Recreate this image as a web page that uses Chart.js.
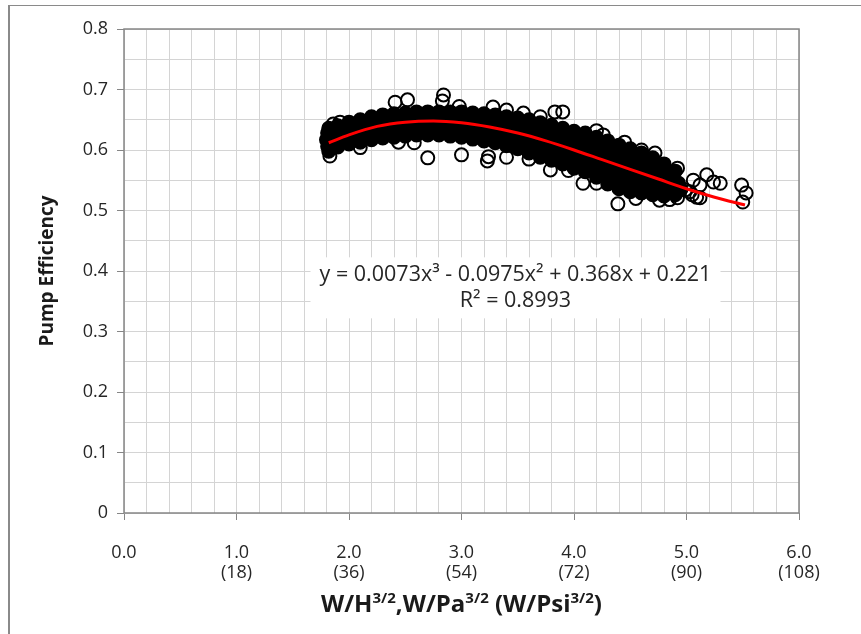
<!DOCTYPE html>
<html>
<head>
<meta charset="utf-8">
<script src="https://cdn.jsdelivr.net/npm/chart.js@4.4.1/dist/chart.umd.min.js"></script>
<style>
  html, body { margin: 0; padding: 0; background: #fff; overflow: hidden; }
  #wrap { position: relative; width: 861px; height: 634px; overflow: hidden; }
  #frame { position: absolute; left: 8px; top: 5px; width: 900px; height: 700px;
           border-left: 2px solid #8a8a8a; border-top: 1px solid #8a8a8a; }
  #myChart { position: absolute; left: 0; top: 0; }
</style>
</head>
<body>
<div id="wrap">
  <div id="frame"></div>
  <canvas id="myChart" width="861" height="634"></canvas>
</div>
<script>
// tick labels
const xTickTop = ['0.0', '1.0', '2.0', '3.0', '4.0', '5.0', '6.0']
const xTickPsi = ['', '(18)', '(36)', '(54)', '(72)', '(90)', '(108)']
const yTickLabels = ['0', '0.1', '0.2', '0.3', '0.4', '0.5', '0.6', '0.7', '0.8']

// dense band of measured points (upper / lower edge of the black mass)
const bandX = [1.82, 1.9, 2.0, 2.1, 2.2, 2.3, 2.4, 2.5, 2.6, 2.7, 2.8, 2.9, 3.0, 3.1, 3.2, 3.3,
  3.4, 3.5, 3.6, 3.7, 3.8, 3.9, 4.0, 4.1, 4.2, 4.3, 4.4, 4.5, 4.6, 4.7, 4.8, 4.9]
const bandTop = [0.636, 0.640, 0.646, 0.650, 0.655, 0.658, 0.660, 0.661, 0.663, 0.663, 0.663, 0.663,
  0.663, 0.661, 0.660, 0.658, 0.655, 0.653, 0.650, 0.645, 0.641, 0.636, 0.631, 0.628, 0.621, 0.615,
  0.608, 0.602, 0.595, 0.587, 0.577, 0.565]
const bandBottom = [0.598, 0.605, 0.610, 0.613, 0.617, 0.620, 0.621, 0.623, 0.625, 0.625, 0.625, 0.623,
  0.621, 0.618, 0.615, 0.612, 0.607, 0.602, 0.595, 0.588, 0.583, 0.577, 0.570, 0.564, 0.555, 0.544,
  0.536, 0.531, 0.529, 0.526, 0.524, 0.526]
// points closing the two ends of the band
const endX = [1.80, 1.81, 1.81, 4.93, 4.95]
const endY = [0.617, 0.628, 0.606, 0.545, 0.535]

// separate circles around the band
const ringX = [1.86, 1.92, 1.83, 2.41, 2.52, 2.84, 2.83, 3.28, 3.40, 3.83, 3.90, 2.70, 3.00, 3.23,
  3.24, 2.58, 2.44, 3.40, 4.26, 4.39, 4.08, 3.79, 4.72, 4.92, 5.06, 5.18, 5.24, 5.30, 5.09, 5.03,
  5.49, 5.53, 5.50, 4.99, 5.12, 5.05, 5.12, 4.76, 4.92, 2.98, 3.55, 3.70, 4.20, 4.45, 4.60, 2.10,
  3.60, 3.95, 4.20, 4.55, 4.85]
const ringY = [0.643, 0.646, 0.590, 0.679, 0.683, 0.691, 0.681, 0.671, 0.666, 0.663, 0.663, 0.587,
  0.592, 0.582, 0.589, 0.612, 0.613, 0.588, 0.625, 0.511, 0.545, 0.567, 0.595, 0.570, 0.550, 0.559,
  0.547, 0.545, 0.522, 0.531, 0.542, 0.529, 0.514, 0.534, 0.542, 0.526, 0.521, 0.517, 0.521, 0.672,
  0.661, 0.655, 0.632, 0.613, 0.600, 0.604, 0.585, 0.566, 0.545, 0.520, 0.518]

// red trend line
const trendX = [1.82, 2.0, 2.25, 2.5, 2.75, 3.0, 3.25, 3.5, 3.75, 4.0, 4.25, 4.5, 4.75, 5.0, 5.25, 5.52]
const trendY = [0.612, 0.625, 0.639, 0.646, 0.648, 0.645, 0.638, 0.628, 0.615, 0.600, 0.584, 0.568,
  0.552, 0.536, 0.522, 0.509]

const eqLines = ['y = 0.0073x³ - 0.0975x² + 0.368x + 0.221', 'R² = 0.8993']
const eqPos = { x: 3.48, y: 0.373 }
const xTitleParts = [['W/H', false], ['3/2', true], [',W/Pa', false], ['3/2', true],
  [' (W/Psi', false], ['3/2', true], [')', false]]

const FONT = "'Open Sans', 'Liberation Sans', sans-serif"

function pts(xs, ys) {
  return xs.map((x, i) => ({ x: x, y: ys[i] }))
}

function isWhole(v, k) {
  return Math.abs(v * k - Math.round(v * k)) < 1e-6
}

const decor = {
  id: 'decor',
  afterDraw(chart) {
    const { ctx, chartArea, scales } = chart
    ctx.save()
    // plot border
    ctx.strokeStyle = '#868686'
    ctx.lineWidth = 1.5
    ctx.strokeRect(chartArea.left, chartArea.top, chartArea.right - chartArea.left, chartArea.bottom - chartArea.top)

    // trendline label
    const cx = scales.x.getPixelForValue(eqPos.x)
    const cy = scales.y.getPixelForValue(eqPos.y)
    ctx.fillStyle = '#fff'
    ctx.fillRect(cx - 205, cy - 30, 410, 61)
    ctx.fillStyle = '#262626'
    ctx.font = '21.5px ' + FONT
    ctx.textAlign = 'center'
    ctx.textBaseline = 'middle'
    ctx.fillText(eqLines[0], cx, cy - 12)
    ctx.fillText(eqLines[1], cx, cy + 14)

    // x axis title with superscripts, centred under the plot
    const big = 'bold 24px ' + FONT
    const small = 'bold 15px ' + FONT
    let total = 0
    xTitleParts.forEach(p => {
      ctx.font = p[1] ? small : big
      total += ctx.measureText(p[0]).width
    })
    let x = (chartArea.left + chartArea.right) / 2 - total / 2
    const base = 612
    ctx.textAlign = 'left'
    ctx.textBaseline = 'alphabetic'
    ctx.fillStyle = '#1a1a1a'
    xTitleParts.forEach(p => {
      ctx.font = p[1] ? small : big
      ctx.fillText(p[0], x, p[1] ? base - 9 : base)
      x += ctx.measureText(p[0]).width
    })
    ctx.restore()
  }
}

const ctx2 = document.getElementById('myChart').getContext('2d')

const myChart = new Chart(ctx2, {
  type: 'scatter',
  data: {
    datasets: [{
      label: 'trend',
      data: pts(trendX, trendY),
      showLine: true,
      borderColor: '#ff0000',
      borderWidth: 3,
      pointRadius: 0,
      cubicInterpolationMode: 'monotone',
      fill: false
    }, {
      label: 'rings',
      data: pts(ringX, ringY),
      pointRadius: 6.5,
      pointBorderWidth: 2,
      pointBorderColor: '#000',
      pointBackgroundColor: 'rgba(0,0,0,0)'
    }, {
      label: 'ends',
      data: pts(endX, endY),
      pointRadius: 6.5,
      pointBorderWidth: 2,
      pointBorderColor: '#000',
      pointBackgroundColor: '#000'
    }, {
      label: 'bandTop',
      data: pts(bandX, bandTop),
      showLine: true,
      borderWidth: 0,
      borderColor: '#000',
      pointRadius: 6.5,
      pointBorderWidth: 2,
      pointBorderColor: '#000',
      pointBackgroundColor: '#000',
      fill: false
    }, {
      label: 'bandBottom',
      data: pts(bandX, bandBottom),
      showLine: true,
      borderWidth: 0,
      borderColor: '#000',
      backgroundColor: '#000',
      pointRadius: 6.5,
      pointBorderWidth: 2,
      pointBorderColor: '#000',
      pointBackgroundColor: '#000',
      fill: '-1'
    }]
  },
  options: {
    responsive: false,
    animation: false,
    events: [],
    layout: {
      padding: { left: 0, top: 29, right: 62, bottom: 0 }
    },
    plugins: {
      legend: { display: false },
      tooltip: { enabled: false }
    },
    scales: {
      x: {
        type: 'linear',
        min: 0,
        max: 6,
        afterFit: (scale) => { scale.height = 121 },
        border: { display: false },
        grid: {
          color: '#d4d4d4',
          lineWidth: 1,
          tickLength: 7,
          tickColor: (c) => (c.tick && isWhole(c.tick.value, 1)) ? '#868686' : 'rgba(0,0,0,0)'
        },
        ticks: {
          stepSize: 0.2,
          autoSkip: false,
          maxRotation: 0,
          padding: 23,
          color: '#262626',
          font: { family: FONT, size: 18, lineHeight: 1.1 },
          callback: (v) => {
            if (!isWhole(v, 1)) return ''
            const i = Math.round(v)
            return xTickPsi[i] ? [xTickTop[i], xTickPsi[i]] : xTickTop[i]
          }
        }
      },
      y: {
        type: 'linear',
        min: 0,
        max: 0.8,
        afterFit: (scale) => { scale.width = 124 },
        border: { display: false },
        grid: {
          color: '#d4d4d4',
          lineWidth: 1,
          tickLength: 7,
          tickColor: (c) => (c.tick && isWhole(c.tick.value, 10)) ? '#868686' : 'rgba(0,0,0,0)'
        },
        title: {
          display: true,
          text: 'Pump Efficiency',
          color: '#1a1a1a',
          font: { family: FONT, size: 19, weight: 'bold' },
          padding: { top: 36, bottom: 0 }
        },
        ticks: {
          stepSize: 0.05,
          autoSkip: false,
          padding: 9,
          color: '#262626',
          font: { family: FONT, size: 18 },
          callback: (v) => isWhole(v, 10) ? yTickLabels[Math.round(v * 10)] : ''
        }
      }
    }
  },
  plugins: [decor]
})
</script>
</body>
</html>
